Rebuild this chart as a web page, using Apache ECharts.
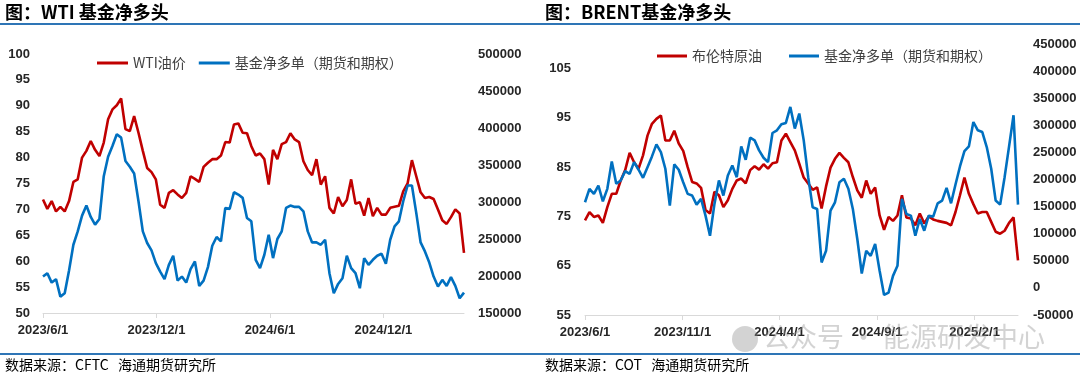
<!DOCTYPE html>
<html><head><meta charset="utf-8">
<script src="https://cdn.jsdelivr.net/npm/echarts@6/dist/echarts.min.js"></script>
<style>html,body{margin:0;padding:0;background:#fff}#c{width:1080px;height:381px}</style>
</head><body><div id="c"></div>
<script>
// weekly observations starting 2023/6/1
const startDate = '2023/6/1';
const weekStep = 7;

const wtiPrice = [71.9,70.1,71.6,69.6,70.5,69.6,71.6,75.3,75.8,80.0,81.3,83.2,81.5,80.3,82.9,87.4,89.3,90.1,91.4,85.5,85.1,88.0,84.8,81.3,78.0,77.2,75.8,70.9,70.3,73.2,73.7,72.9,72.2,73.2,76.4,75.9,75.3,78.2,79.0,79.7,79.7,80.4,83.0,82.9,86.4,86.6,84.8,84.7,82.2,80.4,
  80.8,79.7,74.8,81.5,79.7,82.6,83.0,84.7,83.5,83.0,79.3,77.6,76.6,79.7,74.8,76.4,70.3,69.2,72.4,70.6,71.8,75.8,71.1,71.4,68.8,72.2,68.7,70.3,69.0,69.0,70.3,70.5,70.7,73.5,75.0,79.5,76.4,73.3,72.2,72.4,72.0,70.0,67.9,67.2,68.5,70.0,69.2,61.6];
const wtiNetLong = [199200,203800,191100,195700,172100,176700,207400,242200,260300,281600,295200,279800,269400,277100,334900,361200,375600,391500,387000,355300,347700,338600,301000,260300,244600,234600,217400,206000,195700,215100,227300,193800,199200,191100,209300,219600,186600,193800,212000,240900,252700,246700,292000,290700,313200,310100,305600,278500,273900,221900,
  210600,228700,255800,224200,250000,260300,292000,295200,293400,293400,287400,260300,245400,245400,242200,249000,203800,176700,189300,197000,227300,210600,203800,183500,224200,215100,221900,227300,230000,216500,249000,267100,273900,301000,322300,322300,285300,245400,233200,218200,199200,185700,194800,186600,198400,186600,170000,177500];

const brentPrice = [74.2,75.9,74.9,75.2,73.7,76.9,79.6,79.6,82.3,84.4,87.9,86.0,84.7,87.4,91.4,93.8,94.8,95.5,90.4,90.4,92.4,89.8,88.3,85.0,82.0,81.7,80.8,76.3,75.6,80.0,79.3,76.9,78.3,80.6,82.3,82.7,81.7,84.4,85.2,84.5,85.6,84.7,85.8,86.0,90.4,91.8,90.1,88.4,
  85.7,82.9,81.7,80.4,80.9,76.6,81.1,84.9,86.7,87.9,86.9,86.0,83.0,80.3,78.8,82.3,79.6,80.9,75.2,72.3,74.9,74.1,75.2,79.3,74.8,74.6,73.2,75.6,73.6,75.0,74.4,74.1,73.9,73.7,73.2,75.9,79.3,82.9,79.6,77.5,75.6,75.9,75.9,73.9,71.9,71.5,72.1,73.7,74.8,66.1];
const brentNetLong = [158000,182800,173500,188900,159800,182800,233300,192000,198200,215400,210500,232000,218000,203100,222800,242600,264800,250600,219800,151900,227800,218000,195000,173500,170400,153700,164300,133300,96300,155000,198200,170400,207400,225900,204300,261100,236500,277200,272200,253700,240200,232000,285800,290700,301900,304300,333900,293900,
  321700,272200,204300,148700,145700,46900,68500,142600,158000,195000,201300,182800,145700,90200,26500,68500,59300,80900,31500,-13000,-8700,22200,40700,164300,136500,133300,96300,127200,105600,133300,131500,156100,161100,184600,156100,190700,224100,252400,261100,306100,290700,287600,259800,219800,161100,153700,204300,261100,318500,153700];

const wtiXTicks = ['2023/6/1','2023/12/1','2024/6/1','2024/12/1'];
const brentXTicks = ['2023/6/1','2023/11/1','2024/4/1','2024/9/1','2025/2/1'];
const wtiLeftTicks = [50,55,60,65,70,75,80,85,90,95,100];
const wtiRightTicks = [150000,200000,250000,300000,350000,400000,450000,500000];
const brentLeftTicks = [55,65,75,85,95,105];
const brentRightTicks = [-50000,0,50000,100000,150000,200000,250000,300000,350000,400000,450000];

const NET = '基金净多单（期货和期权）';

function dayOf(s) {
  const p = s.split('/').map(Number), q = startDate.split('/').map(Number);
  return Math.round((Date.UTC(p[0], p[1]-1, p[2]) - Date.UTC(q[0], q[1]-1, q[2])) / 86400000);
}
function toPts(arr) { return arr.map((v, i) => [i * weekStep, v]); }
function tickAxis(labels) {
  const vals = labels.map(dayOf), map = {};
  vals.forEach((v, i) => map[v] = labels[i]);
  return { vals, map };
}
const wx = tickAxis(wtiXTicks), bx = tickAxis(brentXTicks);

const labelStyle = { fontSize: 13, fontWeight: 'bold', color: '#262626', fontFamily: 'Liberation Sans' };
const axisGray = '#d9d9d9';

function xAxisCfg(grid, t, n) {
  return {
    type: 'value', gridIndex: grid, min: 0, max: (n - 1) * weekStep,
    axisLine: { show: true, onZero: false, lineStyle: { color: axisGray, width: 1 } },
    axisTick: { show: true, customValues: t.vals, length: 5, lineStyle: { color: axisGray } },
    axisLabel: Object.assign({ customValues: t.vals, margin: 11, formatter: v => t.map[v] || '' }, labelStyle),
    splitLine: { show: false }
  };
}
function yAxisCfg(grid, pos, ticks, min, max, margin) {
  return {
    type: 'value', gridIndex: grid, position: pos, min, max,
    axisLine: { show: false }, axisTick: { show: false },
    axisLabel: Object.assign({ customValues: ticks, margin, formatter: v => String(v) }, labelStyle),
    splitLine: { show: false }
  };
}

const chart = echarts.init(document.getElementById('c'), null, { renderer: 'canvas' });
const lineW = 2.6;
const RED = '#C00000', BLUE = '#0070C0';
const wmColor = 'rgba(150,150,150,0.42)';

chart.setOption({
  animation: false,
  backgroundColor: '#fff',
  grid: [
    { left: 43, top: 54, width: 421, height: 259 },
    { left: 585, top: 44, width: 433, height: 271 }
  ],
  xAxis: [ xAxisCfg(0, wx, wtiPrice.length), xAxisCfg(1, bx, brentPrice.length) ],
  yAxis: [
    yAxisCfg(0, 'left', wtiLeftTicks, 50, 100, 13),
    yAxisCfg(0, 'right', wtiRightTicks, 150000, 500000, 14),
    yAxisCfg(1, 'left', brentLeftTicks, 55, 110, 14),
    yAxisCfg(1, 'right', brentRightTicks, -50000, 450000, 15)
  ],
  legend: [
    { left: 92, top: 51, data: ['WTI油价', NET], icon: 'rect', itemWidth: 31, itemHeight: 3, itemGap: 13,
      textStyle: { fontSize: 14, color: '#404040', fontFamily: 'Noto Sans CJK SC' } },
    { left: 652, top: 44, data: ['布伦特原油', NET], icon: 'rect', itemWidth: 30, itemHeight: 3, itemGap: 27,
      textStyle: { fontSize: 14, color: '#404040', fontFamily: 'Noto Sans CJK SC' } }
  ],
  series: [
    { name: 'WTI油价', type: 'line', xAxisIndex: 0, yAxisIndex: 0, data: toPts(wtiPrice), symbol: 'none', lineStyle: { color: RED, width: lineW }, itemStyle: { color: RED } },
    { name: NET, type: 'line', xAxisIndex: 0, yAxisIndex: 1, data: toPts(wtiNetLong), symbol: 'none', lineStyle: { color: BLUE, width: lineW }, itemStyle: { color: BLUE } },
    { name: '布伦特原油', type: 'line', xAxisIndex: 1, yAxisIndex: 2, data: toPts(brentPrice), symbol: 'none', lineStyle: { color: RED, width: lineW }, itemStyle: { color: RED } },
    { name: NET, type: 'line', xAxisIndex: 1, yAxisIndex: 3, data: toPts(brentNetLong), symbol: 'none', lineStyle: { color: BLUE, width: lineW }, itemStyle: { color: BLUE } }
  ],
  graphic: [
    { type: 'text', left: 5, top: 3, style: { text: '图：WTI 基金净多头', fontSize: 18, fontWeight: 'bold', fill: '#000', fontFamily: 'Noto Sans CJK SC' } },
    { type: 'text', left: 545, top: 3, style: { text: '图：BRENT基金净多头', fontSize: 18, fontWeight: 'bold', fill: '#000', fontFamily: 'Noto Sans CJK SC' } },
    { type: 'line', shape: { x1: 0, y1: 24, x2: 1080, y2: 24 }, style: { stroke: '#2E75B6', lineWidth: 2 } },
    { type: 'line', shape: { x1: 0, y1: 354, x2: 1080, y2: 354 }, style: { stroke: '#2E75B6', lineWidth: 2 } },
    { type: 'text', left: 5, top: 358, style: { text: '数据来源：CFTC   海通期货研究所', fontSize: 14, fill: '#000', fontFamily: 'Noto Sans CJK SC' } },
    { type: 'text', left: 545, top: 358, style: { text: '数据来源：COT   海通期货研究所', fontSize: 14, fill: '#000', fontFamily: 'Noto Sans CJK SC' } },
    { type: 'circle', shape: { cx: 745, cy: 339, r: 13 }, style: { fill: wmColor }, z: 100 },
    { type: 'text', left: 763, top: 323, z: 100, style: { text: '公众号 · 能源研发中心', fontSize: 27, fill: wmColor, fontFamily: 'Noto Sans CJK SC' } }
  ]
});
</script></body></html>
